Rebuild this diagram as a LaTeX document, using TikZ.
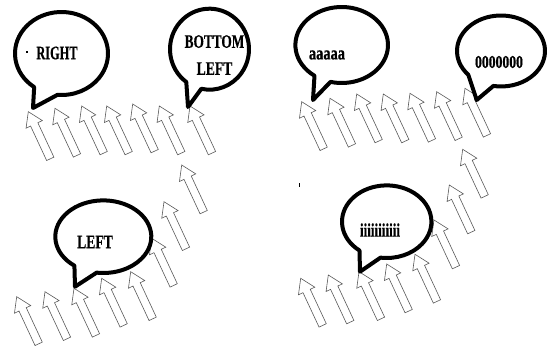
\documentclass[tikz,border=0pt]{standalone}
\usepackage{fontspec}
\setmainfont{Liberation Serif}
\newfontfamily\bubfont[FakeBold=0.6]{Liberation Serif Bold}
\usepackage{graphicx}
\tikzset{
  arrowline/.style={draw=black!65, line width=0.6pt, fill=white, line join=miter},
  bubbleline/.style={draw=black, line width=4pt, fill=white, line join=round},
  txt/.style={font=\fontsize{19}{27}\selectfont\bubfont, inner sep=0pt, align=center},
  upar/.pic={\path[arrowline] (0,0) -- (9,14) -- (4,14) -- (4,52) -- (-4,52) -- (-4,14) -- (-9,14) -- cycle;}
}
\newcommand\speech[8]{%
  \path[bubbleline] (#1,#2) ++(#5:#3 and #4)
    arc[start angle=#5, end angle={#6+360}, x radius=#3, y radius=#4]
    -- (#7,#8) -- cycle;}
\begin{document}
\begin{tikzpicture}[x=1pt,y=-1pt]
\useasboundingbox (0,0) rectangle (557,347);
% arrows
\foreach \x/\y in {28.3/111.7,55/108.3,81.7/106,106.7/106,132.7/104,159.3/106,190/106,
                   301.7/101.7,330/98.3,356.7/94,383.3/94,410/93.3,436.7/91.7,465/88.3,
                   16.7/296.7,45/291.7,74/288.3,101.7/278.3,130.7/271.7,151.7/238.3,164/201.7,181.7/165,
                   300.7/278.3,328.3/275,359/271.7,386.7/264,415/254.3,434/220,449.3/185,462.7/149.3}
  \pic[rotate=25] at (\x,\y) {upar};
% bubbles
\speech{61.5}{53.5}{46.5}{41.5}{126}{95}{33}{108}
\speech{209.5}{49.2}{39.5}{40.5}{126}{102}{188}{107}
\speech{341.7}{45}{46.3}{38}{126}{104}{313}{100}
\speech{501}{51}{44}{35.5}{138}{100}{476.7}{100}
\speech{103.3}{236.7}{48}{36.3}{127}{98}{75}{286.7}
\speech{386.7}{221.7}{44.7}{36.3}{127.5}{98}{360}{271.7}
% texts
\node[txt] (right) at (57,53) {\scalebox{0.65}[1]{RIGHT}};
\node[txt] (bottomleft) at (214.5,55) {\scalebox{0.7}[1]{BOTTOM}\\\scalebox{0.72}[1]{LEFT}};
\node[txt] (aaaaa) at (327,55) {\scalebox{0.76}[1]{aaaaa}};
\node[txt] (zeros) at (499,62) {\fontsize{18}{20}\selectfont\scalebox{0.76}[1]{0000000}};
\node[txt] (left) at (95,242) {\scalebox{0.72}[1]{LEFT}};
\node[txt] (iii) at (380,230) {\scalebox{0.69}[1]{iiiiiiiiiii}};
% small dots
\fill (26,51) rectangle (27.5,53);
\fill (298.5,183) rectangle (300,187);
\end{tikzpicture}
\end{document}
